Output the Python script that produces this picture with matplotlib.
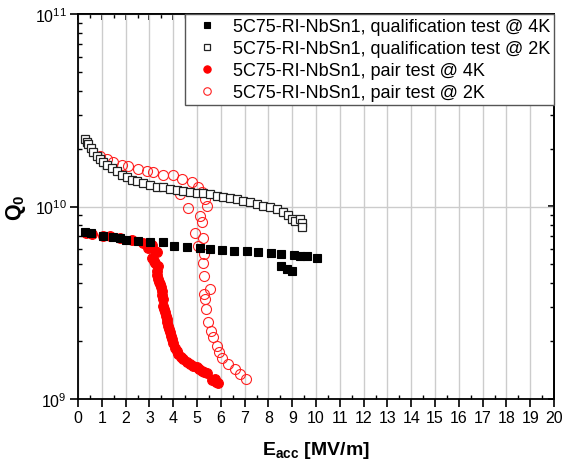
import matplotlib
matplotlib.use("Agg")
import matplotlib.pyplot as plt
from matplotlib.ticker import LogLocator, MultipleLocator, NullFormatter

plt.rcParams['font.family'] = ['Liberation Sans', 'DejaVu Sans']
plt.rcParams['mathtext.fontset'] = 'custom'
plt.rcParams['mathtext.rm'] = 'Liberation Sans'
plt.rcParams['mathtext.bf'] = 'Liberation Sans:bold'
plt.rcParams['mathtext.it'] = 'Liberation Sans:italic'

# ---------------- data ----------------
labels = ["5C75-RI-NbSn1, qualification test @ 4K",
          "5C75-RI-NbSn1, qualification test @ 2K",
          "5C75-RI-NbSn1, pair test @ 4K",
          "5C75-RI-NbSn1, pair test @ 2K"]

qual4_E = [0.29, 0.53, 1.06, 1.48, 1.76, 2.02, 2.53, 3.03, 3.56, 4.03, 4.57, 5.13,
           5.55, 6.04, 6.57, 7.09, 7.58, 8.11, 8.52, 9.08, 9.33, 9.61, 10.03,
           8.52, 8.77, 8.98]
qual4_Q = [7.4e9, 7.28e9, 7.05e9, 6.92e9, 6.84e9, 6.73e9, 6.6e9, 6.52e9, 6.56e9, 6.21e9,
           6.14e9, 6.09e9, 6.04e9, 5.97e9, 5.89e9, 5.85e9, 5.78e9, 5.73e9, 5.66e9, 5.6e9,
           5.55e9, 5.5e9, 5.38e9, 4.92e9, 4.73e9, 4.64e9]

qual2_E = [0.29, 0.36, 0.43, 0.53, 0.64, 0.78, 0.92, 1.06, 1.23, 1.41, 1.62, 1.83, 2.04,
           2.25, 2.46, 2.75, 3.03, 3.31, 3.59, 3.87, 4.15, 4.43, 4.71, 4.99, 5.27, 5.55,
           5.83, 6.11, 6.39, 6.67, 6.95, 7.23, 7.51, 7.79, 8.07, 8.35, 8.63, 8.84, 8.98,
           9.12, 9.33, 9.4, 9.4]
qual2_Q = [2.24e10, 2.16e10, 2.11e10, 2.01e10, 1.91e10, 1.84e10, 1.77e10, 1.71e10, 1.64e10,
           1.59e10, 1.52e10, 1.46e10, 1.42e10, 1.38e10, 1.35e10, 1.32e10, 1.30e10, 1.27e10,
           1.26e10, 1.24e10, 1.22e10, 1.21e10, 1.19e10, 1.18e10, 1.17e10, 1.16e10, 1.14e10,
           1.12e10, 1.11e10, 1.09e10, 1.07e10, 1.05e10, 1.03e10, 1.01e10, 9.9e9, 9.7e9,
           9.4e9, 9.0e9, 8.6e9, 8.4e9, 8.6e9, 8.2e9, 7.8e9]

pair4_E = [0.35, 0.6, 1.06, 1.34, 1.76, 2.25, 2.75, 2.96, 3.1, 3.24, 3.31, 3.1, 3.2, 3.24,
           3.38, 3.31, 3.3, 3.38, 3.42, 3.45, 3.5, 3.52, 3.52, 3.56, 3.59, 3.62, 3.66, 3.7,
           3.73, 3.76, 3.8, 3.84, 3.87, 3.9, 3.94, 4.0, 4.08, 4.15, 4.22, 4.32, 4.43, 4.57,
           4.71, 4.85, 4.99, 5.1, 5.2, 5.3, 5.41, 5.65, 5.76, 5.9, 5.8]
pair4_Q = [7.3e9, 7.2e9, 7.0e9, 7.0e9, 6.9e9, 6.7e9, 6.5e9, 6.1e9, 6.3e9, 5.9e9, 5.8e9,
           5.4e9, 5.2e9, 5.1e9, 4.9e9, 4.6e9, 4.4e9, 4.2e9, 4.05e9, 3.95e9, 3.8e9, 3.65e9,
           3.45e9, 3.3e9, 3.05e9, 2.95e9, 2.82e9, 2.7e9, 2.6e9, 2.5e9, 2.4e9, 2.3e9, 2.22e9,
           2.13e9, 2.05e9, 1.95e9, 1.85e9, 1.78e9, 1.71e9, 1.66e9, 1.61e9, 1.56e9, 1.52e9,
           1.49e9, 1.46e9, 1.43e9, 1.40e9, 1.38e9, 1.36e9, 1.25e9, 1.27e9, 1.21e9, 1.23e9]

pair2_E = [0.92, 1.2, 1.48, 1.83, 2.11, 2.53, 2.89, 3.17, 3.59, 4.0, 4.36, 4.78, 5.06,
           5.2, 5.34, 4.29, 5.41, 4.64, 5.13, 5.2, 4.92, 5.27, 5.06, 5.29, 5.27, 5.29, 5.55,
           5.29, 5.34, 5.38, 5.48, 5.57, 5.69, 5.85, 5.94, 6.04, 6.32, 6.6, 6.81, 7.05]
pair2_Q = [1.84e10, 1.77e10, 1.71e10, 1.65e10, 1.63e10, 1.57e10, 1.53e10, 1.51e10, 1.46e10,
           1.45e10, 1.39e10, 1.34e10, 1.26e10, 1.19e10, 1.09e10, 1.16e10, 1.01e10, 9.8e9,
           8.9e9, 8.3e9, 7.3e9, 6.9e9, 6.25e9, 5.66e9, 5.1e9, 4.37e9, 3.72e9, 3.51e9, 3.3e9,
           2.94e9, 2.5e9, 2.26e9, 2.09e9, 1.89e9, 1.75e9, 1.64e9, 1.52e9, 1.43e9, 1.35e9,
           1.27e9]

x_ticks = list(range(0, 21))

# ---------------- figure ----------------
fig = plt.figure(figsize=(5.65, 4.64), dpi=100)
ax = fig.add_axes([78/565, 1-400/464, (554-78)/565, (400-15)/464])

ms = 6.0
h3, = ax.plot(pair4_E, pair4_Q, 'o', ms=ms + 1.0, mfc='#ff0000', mec='#ff0000', mew=0.8,
              label=labels[2], zorder=3)
h4, = ax.plot(pair2_E, pair2_Q, 'o', ms=ms + 1.2, mfc='none', mec='#ff2020', mew=0.8,
              label=labels[3], zorder=3)
h2, = ax.plot(qual2_E, qual2_Q, 's', ms=ms, mfc='white', mec='#222222', mew=0.9,
              label=labels[1], zorder=4)
h1, = ax.plot(qual4_E, qual4_Q, 's', ms=ms, mfc='black', mec='black', mew=0.8,
              label=labels[0], zorder=5)

ax.set_yscale('log')
ax.set_xlim(0, 20)
ax.set_ylim(1e9, 1e11)
ax.set_xticks(x_ticks)
ax.xaxis.set_minor_locator(MultipleLocator(0.5))
ax.yaxis.set_major_locator(LogLocator(base=10, numticks=10))
ax.yaxis.set_minor_locator(LogLocator(base=10, subs=range(2, 10), numticks=20))
ax.yaxis.set_minor_formatter(NullFormatter())

ax.grid(True, which='major', color='#cccccc', lw=1.0, zorder=0)
ax.set_axisbelow(True)

for s in ax.spines.values():
    s.set_linewidth(1.3)
    s.set_color('black')

ax.tick_params(which='major', direction='out', length=6, width=1.2, labelsize=11.5,
               pad=2, colors='black')
ax.tick_params(which='minor', direction='in', length=3, width=1.0)

# top and right mirrored ticks, inward
secx = ax.secondary_xaxis('top')
secx.set_xticks(x_ticks)
secx.xaxis.set_minor_locator(MultipleLocator(0.5))
secx.tick_params(which='both', direction='in', labeltop=False)
secx.tick_params(which='major', length=4, width=1.2)
secx.tick_params(which='minor', length=3, width=1.0)
secx.spines['top'].set_linewidth(1.3)

secy = ax.secondary_yaxis('right')
secy.set_yscale('log')
secy.yaxis.set_major_locator(LogLocator(base=10, numticks=10))
secy.yaxis.set_minor_locator(LogLocator(base=10, subs=range(2, 10), numticks=20))
secy.tick_params(which='both', direction='in', labelright=False)
secy.tick_params(which='major', length=4, width=1.2)
secy.tick_params(which='minor', length=3, width=1.0)
secy.spines['right'].set_linewidth(1.3)

ax.set_xlabel(r'E$_{\mathbf{acc}}$ [MV/m]', fontsize=14, fontweight='bold', labelpad=10)
ax.set_ylabel(r'Q$_{\mathbf{0}}$', fontsize=15.5, fontweight='bold', labelpad=5)

leg = ax.legend(handles=[h1, h2, h3, h4], loc='upper right', borderaxespad=0,
                fontsize=13, frameon=True, fancybox=False, edgecolor='#555555',
                framealpha=1, markerscale=0.75, handlelength=2.0, handletextpad=0.45,
                labelspacing=0.28, borderpad=0.22)
leg.get_frame().set_linewidth(1.0)
leg.set_zorder(10)

fig.savefig('out.png', dpi=100)
